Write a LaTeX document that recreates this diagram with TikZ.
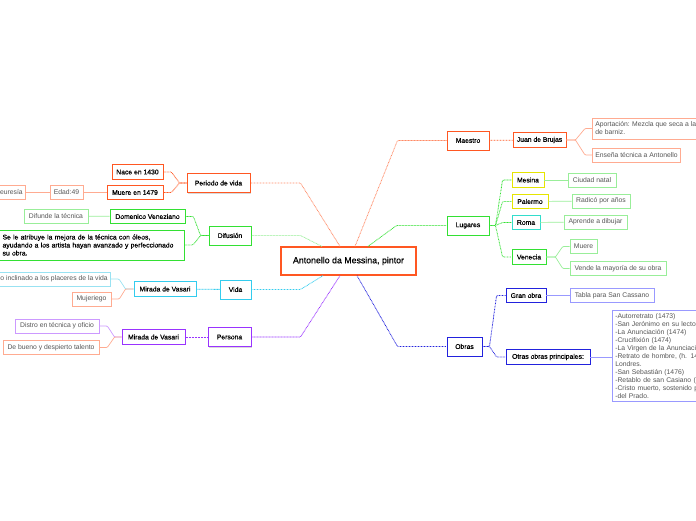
\documentclass[tikz,border=0pt]{standalone}
\usepackage{fontspec}
\setmainfont{Liberation Sans}
\newfontfamily\semifont[FakeBold=0.6]{Liberation Sans}
\usepackage{tikz}
\usetikzlibrary{calc,shadows}
\definecolor{orMain}{HTML}{FF5722}
\definecolor{orMid}{HTML}{FF8A65}
\definecolor{orLight}{HTML}{FFAB91}
\definecolor{grMain}{HTML}{33E033}
\definecolor{grLight}{HTML}{99EE99}
\definecolor{yeMain}{HTML}{E5E500}
\definecolor{teMain}{HTML}{33DDCC}
\definecolor{cyMain}{HTML}{33CCEE}
\definecolor{cyLight}{HTML}{99E2F2}
\definecolor{puMain}{HTML}{9933FF}
\definecolor{puLight}{HTML}{CC99FF}
\definecolor{blMain}{HTML}{2222DD}
\definecolor{blLight}{HTML}{9999FF}
\definecolor{leafText}{HTML}{555555}
\newcommand{\fsRoot}{\fontsize{8.8}{10.5}\selectfont}
\newcommand{\fsNode}{\fontsize{6.8}{8}\selectfont}

\begin{document}
\begin{tikzpicture}[x=1pt, y=-1pt,
  root/.style={draw=orMain, line width=1.2pt, fill=white, font=\fsRoot\semifont, minimum width=135pt, minimum height=28pt,
    drop shadow={shadow xshift=1pt, shadow yshift=-1pt, opacity=0.3}},
  lvlone/.style={draw=#1, line width=1pt, fill=white, font=\fsNode\semifont, minimum height=19pt, inner xsep=2pt,
    drop shadow={shadow xshift=1pt, shadow yshift=-1pt, opacity=0.3}},
  lvltwo/.style={draw=#1, line width=0.9pt, fill=white, font=\fsNode\semifont, minimum height=14.5pt, inner xsep=2pt},
  leaf/.style={draw=#1, line width=0.6pt, fill=white, text=leafText, font=\fsNode, minimum height=14pt, inner xsep=3pt},
  link/.style={draw=#1, line width=0.8pt, dash pattern=on 0.8pt off 0.7pt, rounded corners=1pt},
  twig/.style={draw=#1, line width=0.7pt, rounded corners=1pt}]
  \useasboundingbox (0,0) rectangle (696,520);
  \clip (0,0) rectangle (696,520);
  % centre
  \node[root] (ant) at (348.5,261) {Antonello da Messina, pintor};
  % Maestro
  \node[lvlone=orMain, minimum width=42pt] (maes) at (468,140.5) {Maestro};
  \node[lvltwo=orMain, minimum width=53pt] (juan) at (539.5,140) {Juan de Brujas};
  \node[leaf=orLight, anchor=west, align=left, minimum height=21pt] (apor) at (592,128.5) {Aportación: Mezcla que seca a la manera\\de barniz.};
  \node[leaf=orLight, anchor=west] (ense) at (592,155) {Enseña técnica a Antonello};
  % Periodo de vida
  \node[lvlone=orMain, minimum width=63pt] (peri) at (218.5,183) {Periodo de vida};
  \node[lvltwo=orMain, minimum width=51pt] (nace) at (137.5,172) {Nace en 1430};
  \node[lvltwo=orMain, minimum width=56pt] (muer) at (135,192.5) {Muere en 1479};
  \node[leaf=orLight, minimum width=33pt] (edad) at (66.5,192.5) {Edad:49};
  \node[leaf=orLight, anchor=east] (pleu) at (26,192.5) {Pleuresía};
  % Difusion
  \node[lvlone=grMain, minimum width=42pt] (difu) at (230,235.5) {Difusión};
  \node[lvltwo=grMain, minimum width=75pt] (dome) at (147.5,216.5) {Domenico Veneziano};
  \node[leaf=grLight, minimum width=64pt] (difd) at (56,216) {Difunde la técnica};
  \node[lvltwo=grMain, anchor=east, align=left, text width=178pt, minimum height=30pt, inner xsep=4pt] (atri) at (185,245)
    {Se le atribuye la mejora de la técnica con óleos,\\ayudando a los artista hayan avanzado y perfeccionado\\su obra.};
  % Vida
  \node[lvlone=cyMain, minimum width=31pt] (vida) at (235.5,289.5) {Vida};
  \node[lvltwo=cyMain, minimum width=62pt] (mirc) at (165,289) {Mirada de Vasari};
  \node[leaf=cyLight, anchor=east] (plac) at (111,279) {Demasiado inclinado a los placeres de la vida};
  \node[leaf=orLight, minimum width=39pt] (muje) at (91.5,299) {Mujeriego};
  % Persona
  \node[lvlone=puMain, minimum width=43pt] (pers) at (229.5,337) {Persona};
  \node[lvltwo=puMain, minimum width=63pt] (mirp) at (153.5,337) {Mirada de Vasari};
  \node[leaf=puLight, minimum width=84pt] (dist) at (57,326) {Distro en técnica y oficio};
  \node[leaf=orLight, minimum width=96pt] (buen) at (51,347.5) {De bueno y despierto talento};
  % Lugares
  \node[lvlone=grMain, minimum width=42pt] (luga) at (468,225.5) {Lugares};
  \node[lvltwo=yeMain, minimum width=32pt] (mesi) at (528,180) {Mesina};
  \node[lvltwo=yeMain, minimum width=36pt] (pale) at (530,201.5) {Palermo};
  \node[lvltwo=teMain, minimum width=28pt] (roma) at (526,222.5) {Roma};
  \node[lvltwo=grMain, minimum width=34pt] (vene) at (529,257) {Venecia};
  \node[leaf=grLight, minimum width=48pt] (ciud) at (592,180) {Ciudad natal};
  \node[leaf=grLight, minimum width=58pt] (radi) at (601,201) {Radicó por años};
  \node[leaf=grLight, minimum width=63pt] (apre) at (595.5,222) {Aprende a dibujar};
  \node[leaf=grLight, minimum width=27pt] (muev) at (583.5,246.5) {Muere};
  \node[leaf=grLight, minimum width=96pt] (vend) at (618,268.5) {Vende la mayoría de su obra};
  % Obras
  \node[lvlone=blMain, minimum width=35pt] (obra) at (464.5,346.5) {Obras};
  \node[lvltwo=blMain, minimum width=40pt] (gran) at (526,295.5) {Gran obra};
  \node[lvltwo=blMain, minimum width=84pt] (otra) at (548,357) {Otras obras principales:};
  \node[leaf=blLight, minimum width=84pt] (tabl) at (612,295.5) {Tabla para San Cassano};
  \node[leaf=blLight, anchor=north west, align=left, text width=160pt, inner ysep=3pt,
    font=\fontsize{6.8}{8}\selectfont] (list) at (612,310)
    {-Autorretrato (1473)\\-San Jerónimo en su lectorio (1475)\\-La Anunciación (1474)\\-Crucifixión (1474)\\
     -La Virgen de la Anunciación (1476)\\-Retrato de hombre, (h. 1475),\\Londres.\\-San Sebastián (1476)\\
     -Retablo de san Casiano (1475)\\-Cristo muerto, sostenido por un ángel\\-del Prado.};
  % edges from the centre
  \draw[link=orMid] ([xshift=6.5pt]ant.north) -- ([xshift=-49pt]maes.west) -- (maes.west);
  \draw[link=orMid] ([xshift=-8.5pt]ant.north) -- ([xshift=50pt]peri.east) -- (peri.east);
  \draw[link=grLight] ([xshift=-26.5pt]ant.north) -- ([xshift=49pt]difu.east) -- (difu.east);
  \draw[link=grMain] ([xshift=19.5pt]ant.north) -- ([xshift=-50pt]luga.west) -- (luga.west);
  \draw[link=cyMain] ([xshift=-25.5pt]ant.south) -- ([xshift=49pt]vida.east) -- (vida.east);
  \draw[link=puMain] ([xshift=-8.5pt]ant.south) -- ([xshift=49pt]pers.east) -- (pers.east);
  \draw[link=blMain] ([xshift=8.5pt]ant.south) -- ([xshift=-49pt]obra.west) -- (obra.west);
  % second level
  \draw[link=orMain] (maes) -- (juan);
  \draw[link=orMain] (peri.west) -- ++(-7,0) -- ([xshift=8pt]nace.east) -- (nace.east);
  \draw[link=orMain] (peri.west) -- ++(-7,0) -- ([xshift=8pt]muer.east) -- (muer.east);
  \draw[link=grMain] (difu.west) -- ++(-8,0) -- ([xshift=8pt]dome.east) -- (dome.east);
  \draw[link=grMain] (difu.west) -- ++(-8,0) -- ([xshift=8pt]atri.east) -- (atri.east);
  \draw[link=cyMain] (vida) -- (mirc);
  \draw[link=puMain] (pers) -- (mirp);
  \draw[link=grMain] (luga.east) -- ++(6,0) -- ([xshift=-9pt]mesi.west) -- (mesi.west);
  \draw[link=grMain] (luga.east) -- ++(6,0) -- ([xshift=-9pt]pale.west) -- (pale.west);
  \draw[link=grMain] (luga.east) -- ++(6,0) -- ([xshift=-9pt]roma.west) -- (roma.west);
  \draw[link=grMain] (luga.east) -- ++(6,0) -- ([xshift=-9pt]vene.west) -- (vene.west);
  \draw[link=blMain] (obra.east) -- ++(7,0) -- ([xshift=-9pt]gran.west) -- (gran.west);
  \draw[link=blMain] (obra.east) -- ++(7,0) -- ([xshift=-9pt]otra.west) -- (otra.west);
  % leaves
  \draw[twig=orLight] (juan.east) -- ++(9,0) -- ([xshift=-7pt]apor.west) -- (apor.west);
  \draw[twig=orLight] (juan.east) -- ++(9,0) -- ([xshift=-7pt]ense.west) -- (ense.west);
  \draw[twig=orLight] (muer) -- (edad);
  \draw[twig=orLight] (edad) -- (pleu);
  \draw[twig=grLight] (dome) -- (difd);
  \draw[twig=cyLight] (mirc.west) -- ++(-8,0) -- ([xshift=8pt]plac.east) -- (plac.east);
  \draw[twig=orLight] (mirc.west) -- ++(-8,0) -- ([xshift=8pt]muje.east) -- (muje.east);
  \draw[twig=puLight] (mirp.west) -- ++(-7,0) -- ([xshift=8pt]dist.east) -- (dist.east);
  \draw[twig=orLight] (mirp.west) -- ++(-7,0) -- ([xshift=8pt]buen.east) -- (buen.east);
  \draw[twig=grLight] (mesi) -- (ciud);
  \draw[twig=grLight] (pale) -- (radi);
  \draw[twig=grLight] (roma) -- (apre);
  \draw[twig=grLight] (vene.east) -- ++(9,0) -- ([xshift=-7pt]muev.west) -- (muev.west);
  \draw[twig=grLight] (vene.east) -- ++(9,0) -- ([xshift=-7pt]vend.west) -- (vend.west);
  \draw[twig=blLight] (gran) -- (tabl);
  \draw[twig=blLight] (otra.east) -- (otra.east -| list.west);
\end{tikzpicture}
\end{document}
